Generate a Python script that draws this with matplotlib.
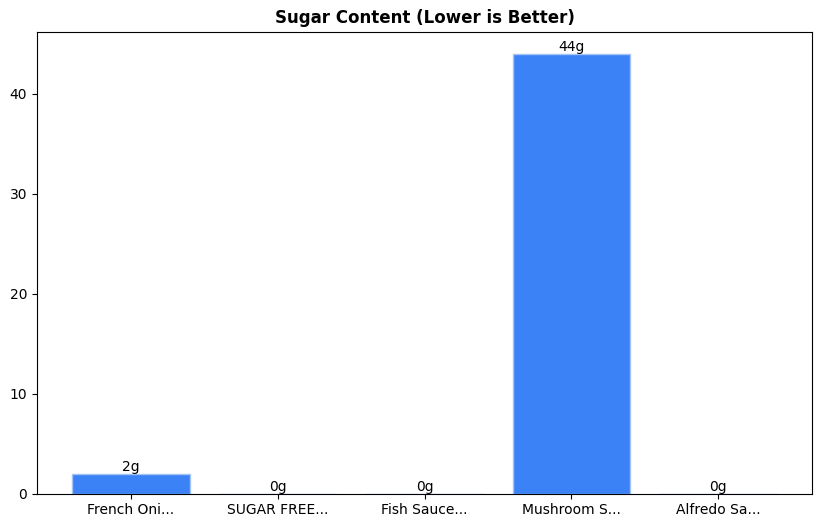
import matplotlib.pyplot as plt

labels = ['French Oni...', 'SUGAR FREE...', 'Fish Sauce...', 'Mushroom S...', 'Alfredo Sa...']
sugar = [2, 0, 0, 44, 0]

fig, ax = plt.subplots(figsize=(8.22, 5.28), dpi=100)
bars = ax.bar(labels, sugar, color='#3b82f6', edgecolor='#a5c4f5', width=0.8)
for b, v in zip(bars, sugar):
    ax.text(b.get_x() + b.get_width() / 2, v, f"{v}g", ha='center', va='bottom', fontsize=10)
ax.set_title("Sugar Content (Lower is Better)", fontweight='bold')
fig.subplots_adjust(left=0.045, right=0.988, top=0.94, bottom=0.065)
fig.savefig("out.png")
